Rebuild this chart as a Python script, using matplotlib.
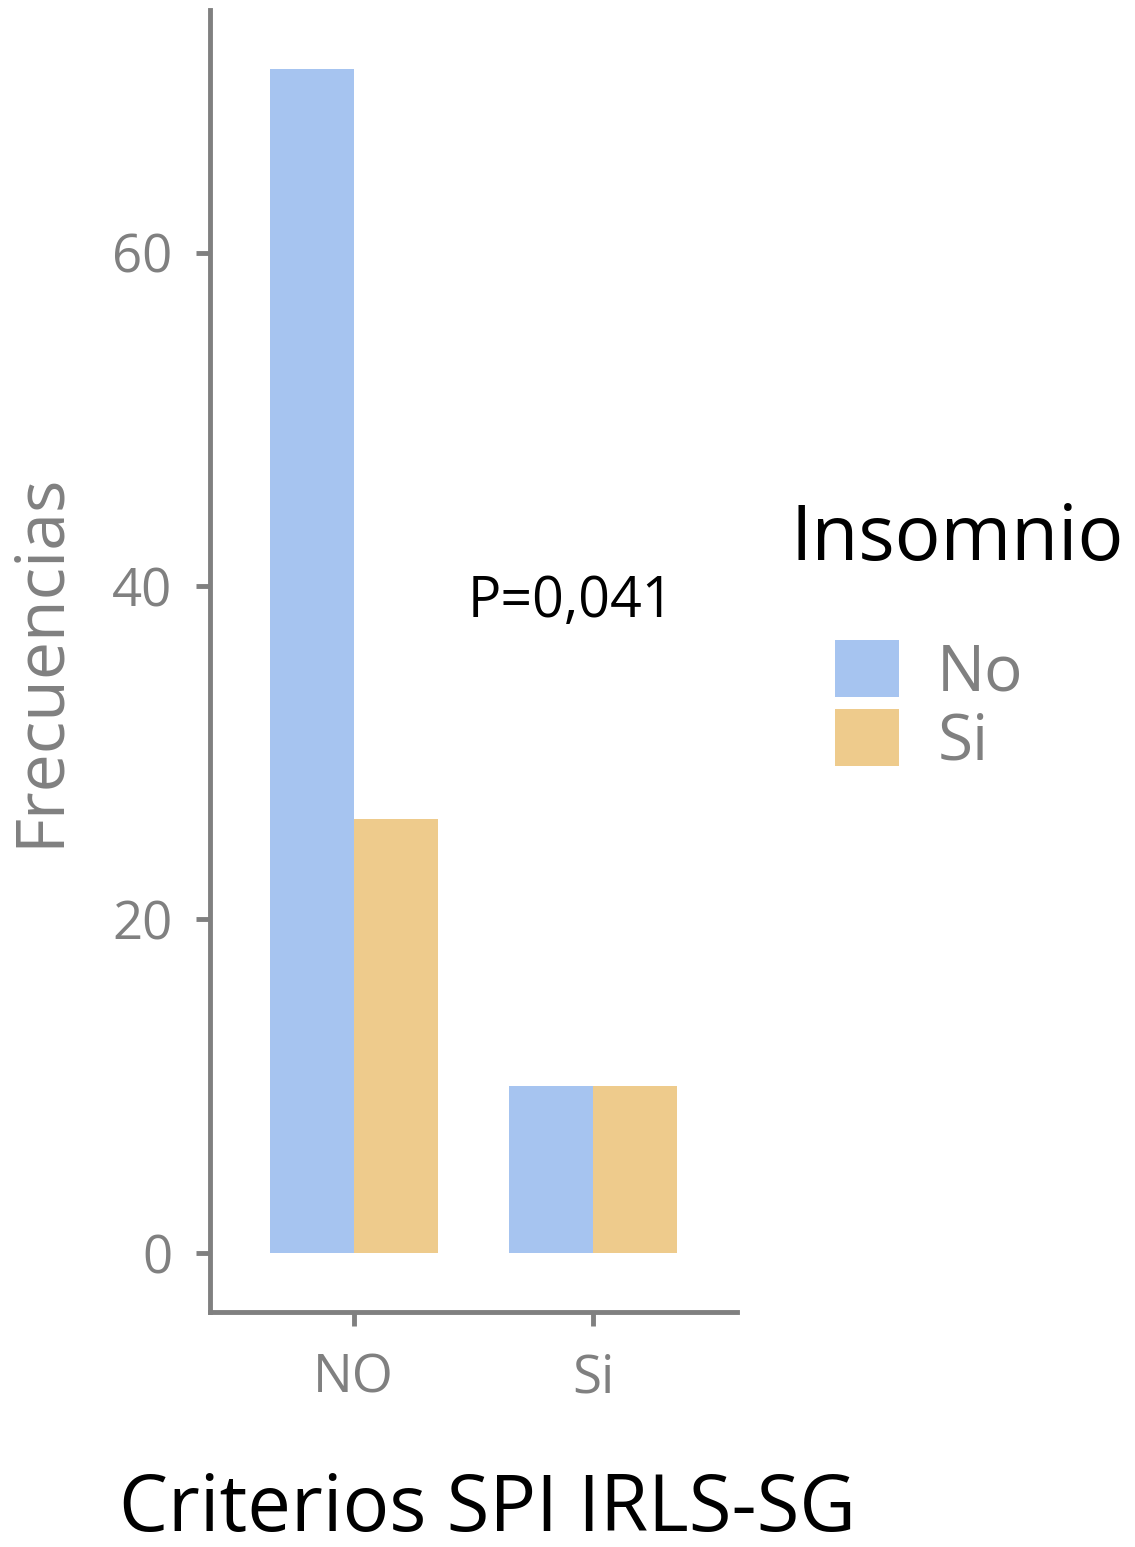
import matplotlib
matplotlib.use("Agg")
import matplotlib.pyplot as plt
import numpy as np
from matplotlib.patches import Patch

# Datos
categorias = ["NO", "Si"]
grupos = ["No", "Si"]
frec_no = [71, 10]   # Insomnio = No
frec_si = [26, 10]   # Insomnio = Si
colores = ["#a6c4f0", "#eecb8c"]
p_texto = "P=0,041"

plt.rcParams['font.family'] = ['Open Sans', 'DejaVu Sans']

W, H = 1135, 1547
fig = plt.figure(figsize=(W/100, H/100), dpi=100)
ax = fig.add_axes([210/W, (H-1312)/H, (737-210)/W, (1312-10)/H])

x = np.arange(1, len(categorias)+1)
ancho = 0.35
ax.bar(x - ancho/2, frec_no, ancho, color=colores[0], linewidth=0)
ax.bar(x + ancho/2, frec_si, ancho, color=colores[1], linewidth=0)

ax.set_xlim(0.4, 2.6)
ax.set_ylim(-3.55, 74.55)
ax.set_xticks(x)
ax.set_xticklabels(categorias)
ax.set_yticks([0, 20, 40, 60])

for s in ["top", "right"]:
    ax.spines[s].set_visible(False)
for s in ["left", "bottom"]:
    ax.spines[s].set_color("#808080")
    ax.spines[s].set_linewidth(3.5)
ax.tick_params(colors="#808080", length=10, width=3.5, labelsize=38)
ax.tick_params(axis="y", pad=17)
ax.tick_params(axis="x", pad=19)

ax.text(1.905, 39.0, p_texto, ha="center", va="center", fontsize=40, color="black")

# titulos de ejes
fig.text(40/W, 1-660/H, "Frecuencias", rotation=90, ha="center", va="center",
         fontsize=49, color="#808080")
fig.text(487/W, 1-1510/H, "Criterios SPI IRLS-SG", ha="center", va="center",
         fontsize=56, color="black")

# leyenda
fig.text(790/W, 1-540/H, "Insomnio", ha="left", va="center", fontsize=55, color="black")
handles = [Patch(facecolor=c, edgecolor="none") for c in colores]
leg = fig.legend(handles, grupos, loc="upper left",
                 bbox_to_anchor=(835/W, 1-640/H), frameon=False,
                 fontsize=46, handlelength=1.0, handleheight=1.0,
                 handletextpad=0.6, labelspacing=0.05, borderaxespad=0, borderpad=0)
for t in leg.get_texts():
    t.set_color("#808080")

fig.savefig("out.png", dpi=100)
